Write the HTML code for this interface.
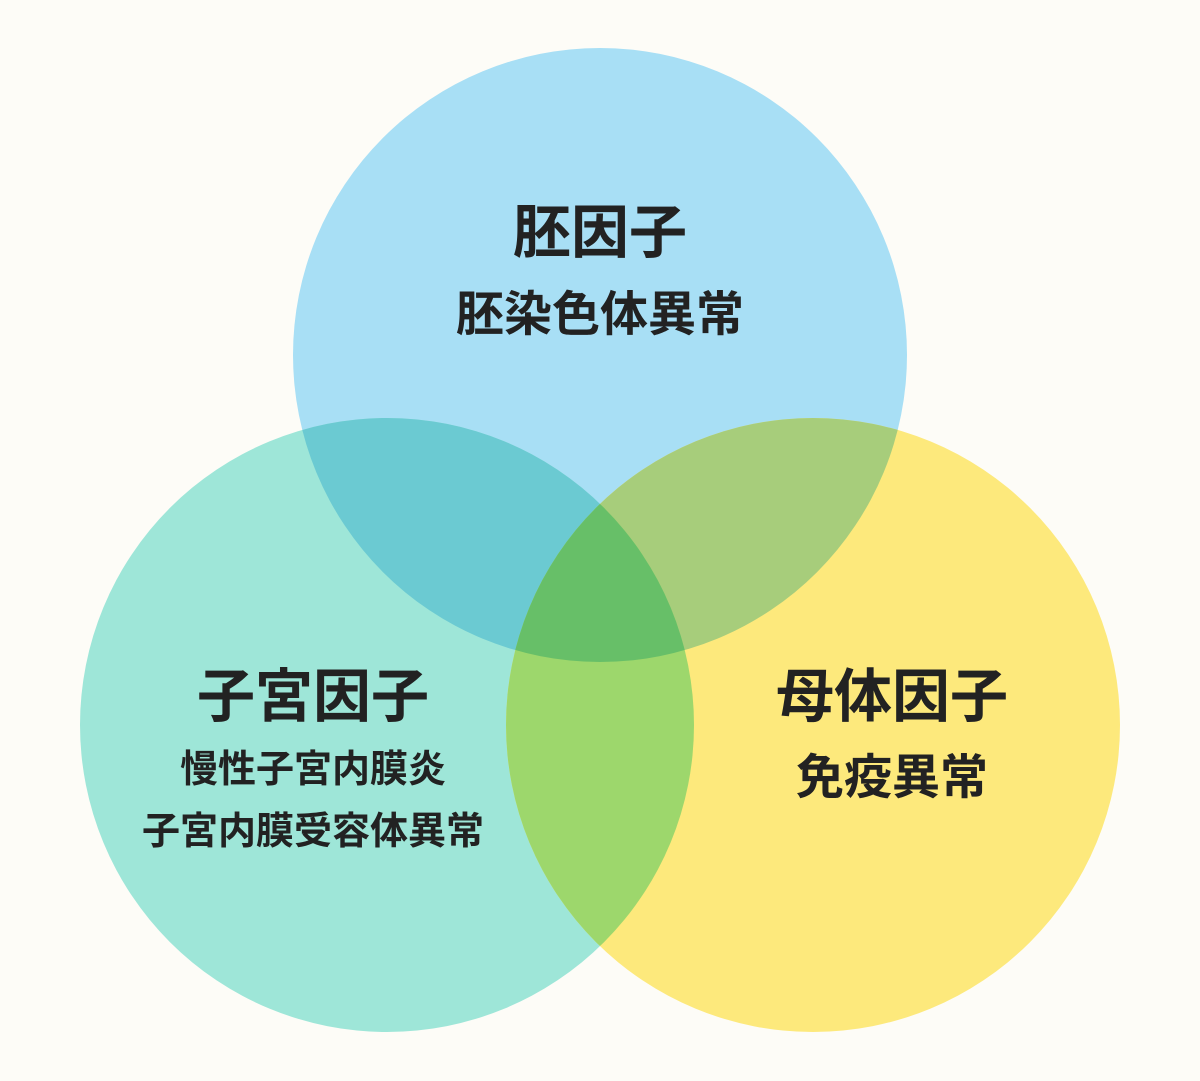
<!DOCTYPE html>
<html><head><meta charset="utf-8"><style>
html,body{margin:0;padding:0;background:#fdfcf7;}
svg{display:block}
text{font-family:"Liberation Sans","Noto Sans CJK JP",sans-serif;font-weight:700;fill:#222;text-anchor:middle;dominant-baseline:central}
</style></head><body>
<svg width="1200" height="1081" viewBox="0 0 1200 1081">
<defs>
<clipPath id="cT"><circle cx="600" cy="355" r="307"/></clipPath>
<clipPath id="cL"><circle cx="387" cy="725" r="307"/></clipPath>
<clipPath id="cR"><circle cx="813" cy="725" r="307"/></clipPath>
</defs>
<rect width="1200" height="1081" fill="#fdfcf7"/>
<circle cx="600" cy="355" r="307" fill="#a8dff5"/>
<circle cx="387" cy="725" r="307" fill="#9ee6d8"/>
<circle cx="813" cy="725" r="307" fill="#fde97c"/>
<g clip-path="url(#cT)"><circle cx="387" cy="725" r="307" fill="#6bcad2"/><circle cx="813" cy="725" r="307" fill="#a7cd7b"/></g>
<g clip-path="url(#cL)"><circle cx="813" cy="725" r="307" fill="#9dd76c"/></g>
<g clip-path="url(#cT)"><g clip-path="url(#cL)"><circle cx="813" cy="725" r="307" fill="#67bf68"/></g></g>
<text x="600" y="233" font-size="58">胚因子</text>
<text x="600" y="315" font-size="48">胚染色体異常</text>
<text x="313" y="697" font-size="58">子宮因子</text>
<text x="313" y="770" font-size="38">慢性子宮内膜炎</text>
<text x="313" y="832" font-size="38">子宮内膜受容体異常</text>
<text x="892" y="697" font-size="58">母体因子</text>
<text x="892" y="778" font-size="48">免疫異常</text>
</svg>
</body></html>
